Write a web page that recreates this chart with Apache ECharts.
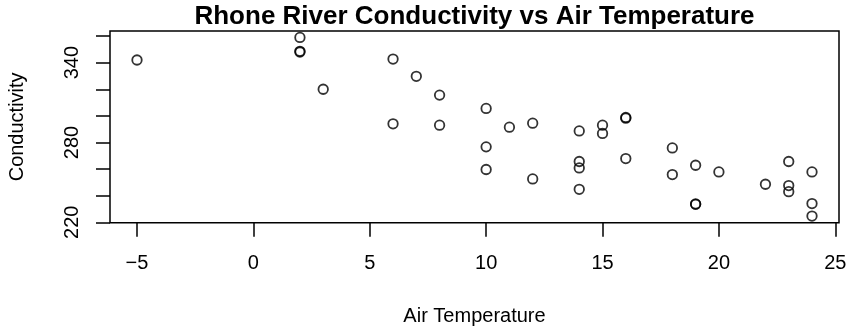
<!DOCTYPE html>
<html>
<head>
<meta charset="utf-8">
<script src="https://cdn.jsdelivr.net/npm/echarts@6/dist/echarts.min.js"></script>
<style>html,body{margin:0;padding:0;background:#fff}#c{width:849px;height:328px}</style>
</head>
<body>
<div id="c"></div>
<script>
const airTemp = [-5, 2, 2, 2, 3, 6, 6, 7, 8, 8, 10, 10, 10, 11, 12, 12, 14, 14, 14, 14, 15, 15, 16, 16, 16, 18, 18, 19, 19, 19, 20, 22, 23, 23, 23, 24, 24, 24];
const conductivity = [342, 359, 348, 348.5, 320, 342.7, 294, 329.7, 315.6, 293, 305.6, 276.7, 259.7, 291.5, 294.5, 252.6, 288.7, 265.7, 260.9, 244.8, 293, 286.8, 298.3, 298.8, 267.9, 275.9, 255.9, 262.9, 233.5, 233.8, 257.9, 248.6, 265.7, 247.6, 243, 257.9, 234.1, 224.7];
const xTicks = [-5, 0, 5, 10, 15, 20, 25];
const yTicks = [220, 240, 260, 280, 300, 320, 340, 360];
const yTickLabels = [220, 280, 340];

const points = airTemp.map((x, i) => [x, conductivity[i]]);
const font = 'Liberation Sans, Arial, Helvetica, sans-serif';
const chart = echarts.init(document.getElementById('c'), null, {renderer: 'canvas'});
chart.setOption({
  animation: false,
  backgroundColor: '#fff',
  title: {
    text: 'Rhone River Conductivity vs Air Temperature',
    left: 474.5, top: 4, textAlign: 'center', padding: 0,
    textStyle: {fontFamily: font, fontWeight: 'bold', fontSize: 26, color: '#000'}
  },
  grid: {
    left: 110, right: 10, top: 31, bottom: 105.3,
    containLabel: false, outerBoundsMode: 'none',
    show: true, borderColor: '#000', borderWidth: 1.5, backgroundColor: 'transparent'
  },
  xAxis: {
    type: 'value', min: -6.16, max: 25.16,
    name: 'Air Temperature', nameLocation: 'middle', nameGap: 84,
    nameTextStyle: {fontFamily: font, fontSize: 20, color: '#000'},
    axisLine: {show: false, onZero: false},
    splitLine: {show: false},
    axisTick: {show: true, customValues: xTicks, length: 14, lineStyle: {color: '#000', width: 1.5}},
    axisLabel: {customValues: xTicks, margin: 31, fontFamily: font, fontSize: 20, color: '#000',
      formatter: v => (v < 0 ? '\u2212' + Math.abs(v) : String(v))}
  },
  yAxis: {
    type: 'value', min: 219.7, max: 363.8,
    name: 'Conductivity', nameLocation: 'middle', nameGap: 83, nameRotate: 90,
    nameTextStyle: {fontFamily: font, fontSize: 20, color: '#000'},
    axisLine: {show: false, onZero: false},
    splitLine: {show: false},
    axisTick: {show: true, customValues: yTicks, length: 14, lineStyle: {color: '#000', width: 1.5}},
    axisLabel: {customValues: yTickLabels, rotate: 90, margin: 28, fontFamily: font, fontSize: 20, color: '#000'}
  },
  series: [{
    type: 'scatter',
    data: points,
    symbol: 'circle',
    symbolSize: 9.5,
    itemStyle: {color: 'rgba(0,0,0,0)', borderColor: '#000', borderWidth: 1.8},
    emphasis: {disabled: true}
  }]
});
</script>
</body>
</html>
